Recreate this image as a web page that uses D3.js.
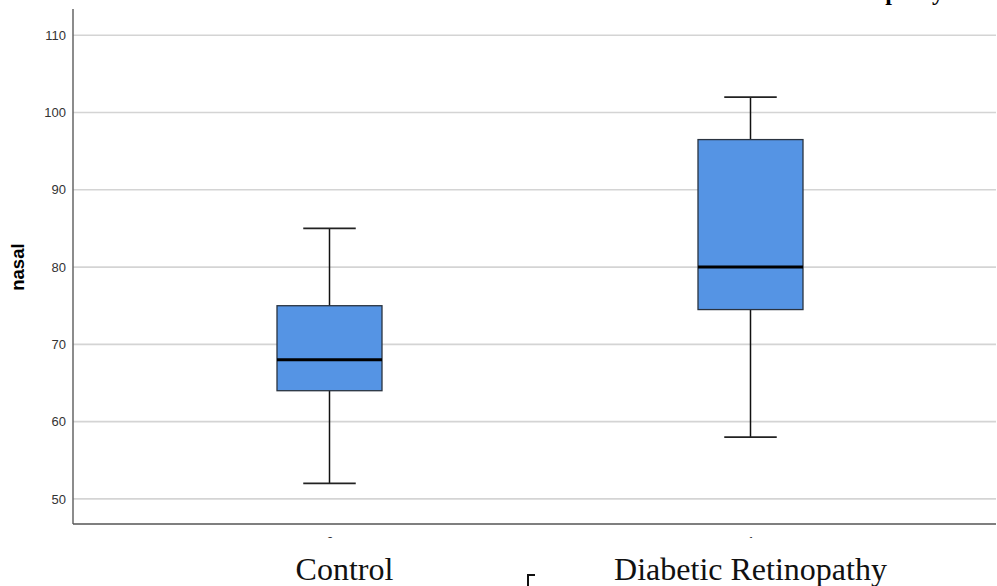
<!DOCTYPE html>
<html>
<head>
<meta charset="utf-8">
<script src="https://cdn.jsdelivr.net/npm/d3@7"></script>
<style>
  body { margin: 0; background: #fff; }
  svg { display: block; }
</style>
</head>
<body>
<svg width="997" height="586"></svg>
<script>
// group codes and their text labels
const groups = ["0", "1"];
const groupNames = ["Control", "Diabetic Retinopathy"];
// box stats
const whiskerLow = [52, 58];
const q1 = [64, 74.5];
const median = [68, 80];
const q3 = [75, 96.5];
const whiskerHigh = [85, 102];
const yTicks = [50, 60, 70, 80, 90, 100, 110];

const svg = d3.select("svg");
const width = +svg.attr("width");
const height = +svg.attr("height");

const plotLeft = 73, plotRight = 996, plotTop = 9, plotBottom = 524;

const y = d3.scaleLinear().domain([46.75, 113.4]).range([plotBottom, plotTop]);
const x = d3.scalePoint().domain(groups).range([329.5, 750.5]);
const boxW = 105;
// the pasted names sit a little off the box centres
const nameShift = [15, 0];

// grid lines
svg.append("g")
    .selectAll("line")
    .data(yTicks)
    .enter()
    .append("line")
    .attr("x1", plotLeft).attr("x2", plotRight)
    .attr("y1", d => y(d)).attr("y2", d => y(d))
    .attr("stroke", "#d4d4d4")
    .attr("stroke-width", 1.6);

// y axis
const yAxis = svg.append("g")
    .attr("transform", "translate(" + plotLeft + ",0)")
    .call(d3.axisLeft(y).tickValues(yTicks).tickSize(0).tickPadding(7));
yAxis.select(".domain").attr("stroke", "#666").attr("stroke-width", 1.5)
    .attr("d", "M0," + plotTop + "V" + plotBottom);
yAxis.selectAll("text")
    .style("font-family", "'Liberation Sans', Arial, sans-serif")
    .style("font-size", "13px")
    .attr("fill", "#333");

// x axis with group codes (mostly hidden)
const xAxis = svg.append("g")
    .attr("transform", "translate(0," + plotBottom + ")")
    .call(d3.axisBottom(x).tickSize(0).tickPadding(13));
xAxis.select(".domain").attr("stroke", "#555").attr("stroke-width", 1.5)
    .attr("d", "M" + plotLeft + ",0H" + plotRight);
xAxis.selectAll("text")
    .style("font-family", "'Liberation Sans', Arial, sans-serif")
    .style("font-size", "13px")
    .attr("fill", "#333");
// white patch over the codes, leaving only their tips
svg.append("rect")
    .attr("x", 250).attr("y", 538)
    .attr("width", 600).attr("height", 20)
    .attr("fill", "#fff");

// y label
svg.append("text")
    .attr("transform", "translate(23.5," + y(80) + ") rotate(-90)")
    .attr("text-anchor", "middle")
    .style("font-family", "'Liberation Sans', Arial, sans-serif")
    .style("font-size", "18.5px")
    .style("font-weight", "bold")
    .text("nasal");

// boxes
const boxes = svg.selectAll("g.box")
    .data(groups)
    .enter()
    .append("g")
    .attr("class", "box");

boxes.append("line")
    .attr("x1", d => x(d)).attr("x2", d => x(d))
    .attr("y1", (d, i) => y(whiskerLow[i])).attr("y2", (d, i) => y(whiskerHigh[i]))
    .attr("stroke", "#111").attr("stroke-width", 1.5);

boxes.selectAll("line.cap")
    .data((d, i) => [{g: d, v: whiskerLow[i]}, {g: d, v: whiskerHigh[i]}])
    .enter()
    .append("line")
    .attr("class", "cap")
    .attr("x1", d => x(d.g) - boxW / 4).attr("x2", d => x(d.g) + boxW / 4)
    .attr("y1", d => y(d.v)).attr("y2", d => y(d.v))
    .attr("stroke", "#222").attr("stroke-width", 1.8);

boxes.append("rect")
    .attr("x", d => x(d) - boxW / 2)
    .attr("width", boxW)
    .attr("y", (d, i) => y(q3[i]))
    .attr("height", (d, i) => y(q1[i]) - y(q3[i]))
    .attr("fill", "#5594e4")
    .attr("stroke", "#2a3340")
    .attr("stroke-width", 1.3);

boxes.append("line")
    .attr("x1", d => x(d) - boxW / 2).attr("x2", d => x(d) + boxW / 2)
    .attr("y1", (d, i) => y(median[i])).attr("y2", (d, i) => y(median[i]))
    .attr("stroke", "#000").attr("stroke-width", 3);

// group names under the axis
svg.selectAll("text.gname")
    .data(groups)
    .enter()
    .append("text")
    .attr("class", "gname")
    .attr("x", (d, i) => x(d) + nameShift[i])
    .attr("y", 580)
    .attr("text-anchor", "middle")
    .style("font-family", "'Liberation Serif', 'Times New Roman', serif")
    .style("font-size", "32px")
    .attr("fill", "#111")
    .text((d, i) => groupNames[i]);

// title cut off at the top edge, as in the source image
svg.append("text")
    .attr("x", 944)
    .attr("y", 0)
    .attr("text-anchor", "end")
    .style("font-family", "'Liberation Serif', 'Times New Roman', serif")
    .style("font-size", "24px")
    .style("font-weight", "bold")
    .text("Diabetic Retinopathy");

// small bracket fragment near the bottom
svg.append("path")
    .attr("d", "M528,586V575H535")
    .attr("fill", "none")
    .attr("stroke", "#111")
    .attr("stroke-width", 2);
</script>
</body>
</html>
